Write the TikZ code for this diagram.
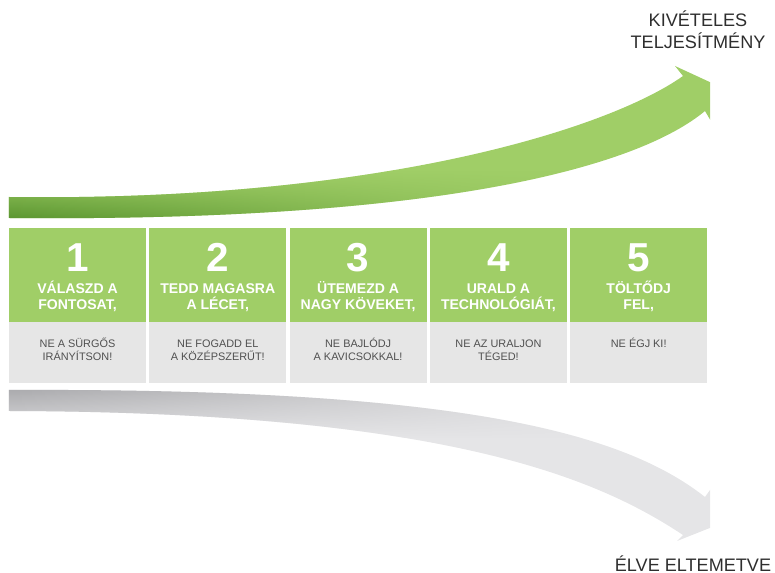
\documentclass[tikz,border=0pt]{standalone}
\usepackage{fontspec}
\setmainfont{Liberation Sans}
\usetikzlibrary{fadings}

\definecolor{stepgreen}{HTML}{A0CE67}
\definecolor{stepgrey}{HTML}{E6E6E6}
\definecolor{notegrey}{HTML}{505050}
\definecolor{labelgrey}{HTML}{2E2E2E}
\definecolor{greenlight}{HTML}{86B466}
\definecolor{greendark}{HTML}{58942E}
\definecolor{greytop}{HTML}{A8A8AB}
\definecolor{greybottom}{HTML}{C8C8CA}
\definecolor{greyend}{HTML}{E5E5E7}

\tikzfading[name=fade right, left color=transparent!0, middle color=transparent!30,
  right color=transparent!100]

% 上升箭头与下降箭头的轮廓
\newcommand{\uparrowpath}{(0.18,7.52) .. controls (7.6,7.42) and (12.2,8.9) .. (13.66,9.94)
  -- (13.5,10.14) -- (14.8,9.54) -- (14.3,8.9) -- (14.1,9.24)
  .. controls (12.8,8.16) and (9.0,7.02) .. (0.18,7.1) -- cycle}
\newcommand{\downarrowpath}{(0.18,3.66) .. controls (9.0,3.7) and (12.4,2.86) .. (14.1,1.52)
  -- (14.3,1.8) -- (14.8,1.14) -- (13.54,0.64) -- (13.66,0.76)
  .. controls (12.0,1.86) and (9.0,3.22) .. (0.18,3.24) -- cycle}

\tikzset{
  green box/.style={
    rectangle, fill=stepgreen, inner sep=0pt, minimum width=2.74cm, minimum height=1.88cm
  },
  grey box/.style={
    rectangle, fill=stepgrey, inner sep=0pt, minimum width=2.74cm, minimum height=1.22cm
  },
  step number/.style={
    text=white, inner sep=0pt, anchor=base, font=\fontsize{23}{23}\selectfont\bfseries
  },
  step title/.style={
    text=white, inner sep=0pt, anchor=base, align=center,
    font=\fontsize{8}{9.6}\selectfont\bfseries
  },
  step note/.style={
    text=notegrey, inner sep=0pt, anchor=base, align=center,
    font=\fontsize{6.2}{7.4}\selectfont
  },
  arrow label/.style={
    text=labelgrey, inner sep=0pt, anchor=base, align=center,
    font=\fontsize{10.3}{12.5}\selectfont
  }
}

\begin{document}
\begin{tikzpicture}
\useasboundingbox (0,0) rectangle (15.5,11.46);

% 两个弯箭头，右端被截齐
\begin{scope}
  \clip (0,0) rectangle (14.2,11.46);
  \fill[stepgreen] \uparrowpath;
  \begin{scope}
    \clip \uparrowpath;
    \shade[top color=stepgreen, middle color=greenlight, bottom color=greendark,
      path fading=fade right]
      (0.18,7.05) rectangle (12,8.05);
  \end{scope}
  \fill[greyend] \downarrowpath;
  \begin{scope}
    \clip \downarrowpath;
    \shade[top color=greytop, middle color=greybottom, bottom color=greyend,
      path fading=fade right]
      (0.18,2.7) rectangle (13,3.72);
  \end{scope}
\end{scope}

% 多行文字以最后一行的基线定位
\node[arrow label] (up) at (13.96,10.49) {KIVÉTELES\\TELJESÍTMÉNY};
\node[arrow label] (down) at (13.86,0.03) {ÉLVE ELTEMETVE};

% 第1列
\begin{scope}[shift={(1.55,5.02)}]
  \node[green box] (aG) at (0,0.94) {};
  \node[grey box]  (aN) at (0,-0.61) {};
  \node[step number] (aNum) at (0,1.0) {1};
  \node[step title]  (aT) at (0,0.24) {VÁLASZD A\\FONTOSAT,};
  \node[step note]   (aS) at (0,-0.78) {NE A SÜRGŐS\\IRÁNYÍTSON!};
\end{scope}

% 第2列
\begin{scope}[shift={(4.356,5.02)}]
  \node[green box] (bG) at (0,0.94) {};
  \node[grey box]  (bN) at (0,-0.61) {};
  \node[step number] (bNum) at (0,1.0) {2};
  \node[step title]  (bT) at (0,0.24) {TEDD MAGASRA\\A LÉCET,};
  \node[step note]   (bS) at (0,-0.78) {NE FOGADD EL\\A KÖZÉPSZERŰT!};
\end{scope}

% 第3列
\begin{scope}[shift={(7.162,5.02)}]
  \node[green box] (cG) at (0,0.94) {};
  \node[grey box]  (cN) at (0,-0.61) {};
  \node[step number] (cNum) at (0,1.0) {3};
  \node[step title]  (cT) at (0,0.24) {ÜTEMEZD A\\NAGY KÖVEKET,};
  \node[step note]   (cS) at (0,-0.78) {NE BAJLÓDJ\\A KAVICSOKKAL!};
\end{scope}

% 第4列
\begin{scope}[shift={(9.968,5.02)}]
  \node[green box] (dG) at (0,0.94) {};
  \node[grey box]  (dN) at (0,-0.61) {};
  \node[step number] (dNum) at (0,1.0) {4};
  \node[step title]  (dT) at (0,0.24) {URALD A\\TECHNOLÓGIÁT,};
  \node[step note]   (dS) at (0,-0.78) {NE AZ URALJON\\TÉGED!};
\end{scope}

% 第5列
\begin{scope}[shift={(12.774,5.02)}]
  \node[green box] (eG) at (0,0.94) {};
  \node[grey box]  (eN) at (0,-0.61) {};
  \node[step number] (eNum) at (0,1.0) {5};
  \node[step title]  (eT) at (0,0.24) {TÖLTŐDJ\\FEL,};
  \node[step note]   (eS) at (0,-0.52) {NE ÉGJ KI!};
\end{scope}

\end{tikzpicture}
\end{document}
